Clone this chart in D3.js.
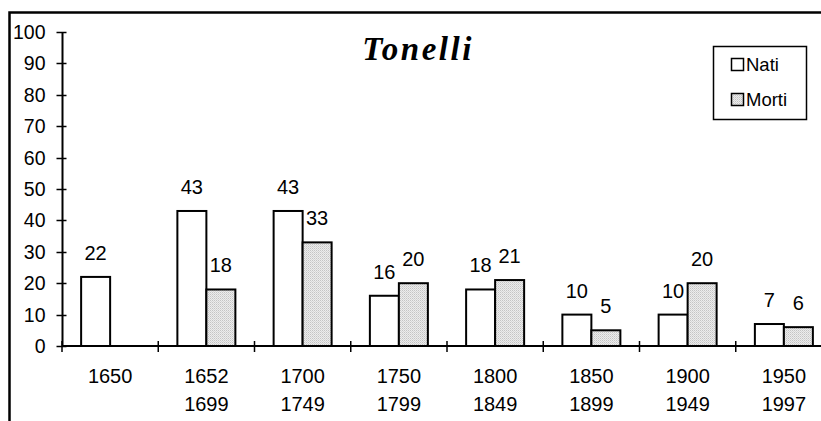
<!DOCTYPE html>
<html>
<head>
<meta charset="utf-8">
<script src="https://cdn.jsdelivr.net/npm/d3@7"></script>
<style>
  html, body { margin: 0; padding: 0; background: #fff; }
  svg { display: block; }
  text { font-family: "Liberation Sans", Arial, sans-serif; fill: #000; }
</style>
</head>
<body>
<svg id="chart" width="821" height="421"></svg>
<script>
const categories = [["1650"], ["1652", "1699"], ["1700", "1749"], ["1750", "1799"], ["1800", "1849"], ["1850", "1899"], ["1900", "1949"], ["1950", "1997"]];
const nati = [22, 43, 43, 16, 18, 10, 10, 7];
const morti = [null, 18, 33, 20, 21, 5, 20, 6];
const seriesNames = ["Nati", "Morti"];
const yTicks = [0, 10, 20, 30, 40, 50, 60, 70, 80, 90, 100];
const title = "Tonelli";

const svg = d3.select("#chart");

// pattern for Morti
const defs = svg.append("defs");
const pat = defs.append("pattern").attr("id", "dots").attr("width", 2).attr("height", 2)
  .attr("patternUnits", "userSpaceOnUse");
pat.append("rect").attr("width", 2).attr("height", 2).attr("fill", "#ececec");
pat.append("rect").attr("width", 1).attr("height", 1).attr("fill", "#c4c4c4");
pat.append("rect").attr("x", 1).attr("y", 1).attr("width", 1).attr("height", 1).attr("fill", "#d6d6d6");

// outer frame (extends beyond the visible area)
svg.append("rect").attr("x", 9.5).attr("y", 12.5).attr("width", 900).attr("height", 500)
  .attr("fill", "none").attr("stroke", "#000").attr("stroke-width", 2.5);

const idx = categories.map((d, i) => i);
const x0 = d3.scaleBand().domain(idx).range([62, 62 + 8 * 96.25]).padding(0);
const cw = x0.bandwidth();
const x1 = d3.scaleBand().domain(seriesNames).range([cw / 2 - 29, cw / 2 + 29]).padding(0);
const y = d3.scaleLinear().domain([0, 100]).range([346, 32]);

// Y axis
const yAxis = svg.append("g").attr("transform", "translate(62.5,0)");
yAxis.append("line").attr("x1", 0).attr("x2", 0).attr("y1", y(100)).attr("y2", y(0))
  .attr("stroke", "#000").attr("stroke-width", 2);
yAxis.selectAll("line.tick").data(yTicks).join("line").attr("class", "tick")
  .attr("x1", -6).attr("x2", 4).attr("y1", d => Math.round(y(d)) + 0.5).attr("y2", d => Math.round(y(d)) + 0.5)
  .attr("stroke", "#000").attr("stroke-width", 1.5);
yAxis.selectAll("text").data(yTicks).join("text")
  .attr("x", -17).attr("y", d => y(d)).attr("dy", "0.36em")
  .attr("text-anchor", "end").attr("font-size", 19.5).text(d => d);

// X axis
const xAxis = svg.append("g");
xAxis.append("line").attr("x1", 62).attr("x2", 62 + 8 * 96.25).attr("y1", y(0)).attr("y2", y(0))
  .attr("stroke", "#000").attr("stroke-width", 2);
xAxis.selectAll("line.tick").data(d3.range(9)).join("line").attr("class", "tick")
  .attr("x1", d => 62 + d * cw).attr("x2", d => 62 + d * cw)
  .attr("y1", y(0) - 5).attr("y2", y(0) + 6)
  .attr("stroke", "#000").attr("stroke-width", 1.5);
const xl = xAxis.selectAll("text").data(idx).join("text")
  .attr("text-anchor", "middle").attr("font-size", 20);
xl.each(function(i) {
  const t = d3.select(this);
  categories[i].forEach((s, k) => {
    t.append("tspan").attr("x", x0(i) + cw / 2).attr("y", 383 + k * 28).text(s);
  });
});

// Bars
const rows = [];
idx.forEach(i => {
  rows.push({ i, s: "Nati", v: nati[i] });
  rows.push({ i, s: "Morti", v: morti[i] });
});
const valid = rows.filter(d => d.v != null);
svg.append("g").selectAll("rect").data(valid).join("rect")
  .attr("x", d => x0(d.i) + x1(d.s))
  .attr("y", d => y(d.v))
  .attr("width", x1.bandwidth())
  .attr("height", d => y(0) - y(d.v))
  .attr("fill", d => d.s === "Nati" ? "#fff" : "url(#dots)")
  .attr("stroke", "#000").attr("stroke-width", 2);

svg.append("g").selectAll("text").data(valid).join("text")
  .attr("x", d => x0(d.i) + x1(d.s) + x1.bandwidth() / 2)
  .attr("y", d => y(d.v) - 17)
  .attr("text-anchor", "middle").attr("font-size", 20)
  .text(d => d.v);

// Title
svg.append("text").attr("x", 418).attr("y", 60).attr("text-anchor", "middle")
  .style("font-family", "'Liberation Serif', 'DejaVu Serif', serif")
  .attr("font-style", "italic").attr("font-weight", "bold").attr("font-size", 33)
  .attr("letter-spacing", 2.5)
  .text(title);

// Legend
const lg = svg.append("g");
lg.append("rect").attr("x", 713.5).attr("y", 46.5).attr("width", 93).attr("height", 73)
  .attr("fill", "#fff").attr("stroke", "#000").attr("stroke-width", 1.5);
const litems = lg.selectAll("g").data(seriesNames).join("g")
  .attr("transform", (d, k) => `translate(731,${58 + k * 35})`);
litems.append("rect").attr("x", 0.5).attr("y", 0.5).attr("width", 12).attr("height", 12)
  .attr("fill", d => d === "Nati" ? "#fff" : "url(#dots)")
  .attr("stroke", "#000").attr("stroke-width", 1.5);
litems.append("text").attr("x", 15).attr("y", 13).attr("font-size", 18.5).text(d => d);
</script>
</body>
</html>
